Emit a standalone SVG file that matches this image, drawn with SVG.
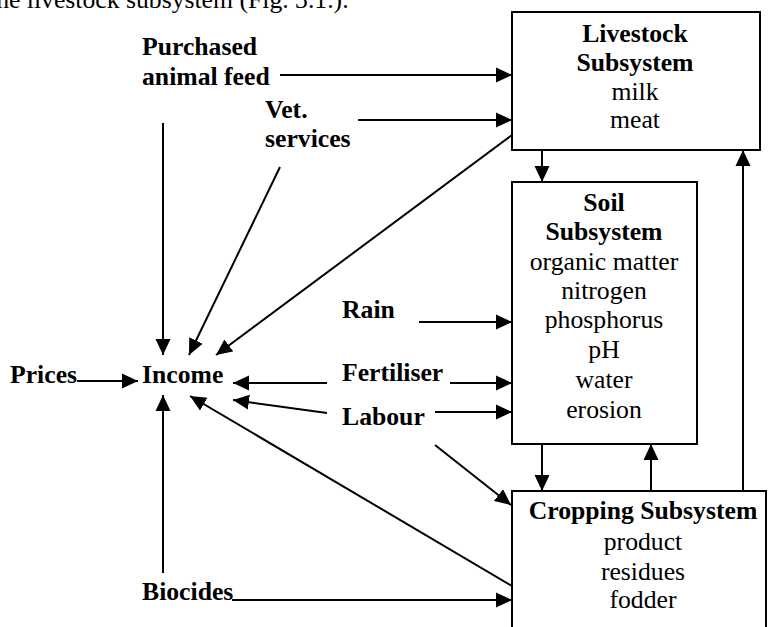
<svg xmlns="http://www.w3.org/2000/svg" width="769" height="627" viewBox="0 0 769 627">
<style>
text{font-family:"Liberation Serif","Times New Roman",serif;font-size:25.7px;fill:#000}
.b{font-weight:bold}
.c{text-anchor:middle}
.box{fill:#fff;stroke:#000;stroke-width:2}
.ln{fill:none;stroke:#000;stroke-width:2}
</style>
<defs>
<marker id="ah" markerUnits="userSpaceOnUse" markerWidth="18" markerHeight="16" refX="16" refY="7.5" orient="auto" viewBox="0 0 18 15">
<path d="M0,0 L16,7.5 L0,15 z" fill="#000"/>
</marker>
</defs>
<rect width="769" height="627" fill="#fff"/>
<text x="-11" y="8">the livestock subsystem (Fig. 3.1.).</text>

<g id="connectors">
<line class="ln" x1="280" y1="75" x2="512" y2="75" marker-end="url(#ah)"/>
<line class="ln" x1="358" y1="120" x2="512" y2="120" marker-end="url(#ah)"/>
<line class="ln" x1="542" y1="150" x2="542" y2="182" marker-end="url(#ah)"/>
<line class="ln" x1="743" y1="491" x2="743" y2="150" marker-end="url(#ah)"/>
<line class="ln" x1="419" y1="322" x2="512" y2="322" marker-end="url(#ah)"/>
<line class="ln" x1="450" y1="383" x2="512" y2="383" marker-end="url(#ah)"/>
<line class="ln" x1="435" y1="412" x2="512" y2="412" marker-end="url(#ah)"/>
<line class="ln" x1="542" y1="444" x2="542" y2="491" marker-end="url(#ah)"/>
<line class="ln" x1="651" y1="491" x2="651" y2="444" marker-end="url(#ah)"/>
<line class="ln" x1="435" y1="445" x2="511" y2="505" marker-end="url(#ah)"/>
<line class="ln" x1="512" y1="586" x2="190" y2="396" marker-end="url(#ah)"/>
<line class="ln" x1="232" y1="600" x2="512" y2="600" marker-end="url(#ah)"/>
<line class="ln" x1="163" y1="573" x2="163" y2="395" marker-end="url(#ah)"/>
<line class="ln" x1="163" y1="123" x2="163" y2="355" marker-end="url(#ah)"/>
<line class="ln" x1="280" y1="167" x2="189" y2="355" marker-end="url(#ah)"/>
<line class="ln" x1="512" y1="135" x2="216" y2="355" marker-end="url(#ah)"/>
<line class="ln" x1="77" y1="381" x2="138" y2="381" marker-end="url(#ah)"/>
<line class="ln" x1="327" y1="383" x2="233" y2="383" marker-end="url(#ah)"/>
<line class="ln" x1="327" y1="413" x2="233" y2="400" marker-end="url(#ah)"/>
</g>

<g id="livestock">
<rect class="box" x="512" y="12" width="248" height="138"/>
<text class="b c" x="635" y="42">Livestock</text>
<text class="b c" x="635" y="71">Subsystem</text>
<text class="c" x="635" y="100">milk</text>
<text class="c" x="635" y="128">meat</text>
</g>

<g id="soil">
<rect class="box" x="512" y="182" width="185" height="262"/>
<text class="b c" x="604" y="211">Soil</text>
<text class="b c" x="604" y="240">Subsystem</text>
<text class="c" x="604" y="270">organic matter</text>
<text class="c" x="604" y="299">nitrogen</text>
<text class="c" x="604" y="328">phosphorus</text>
<text class="c" x="604" y="358">pH</text>
<text class="c" x="604" y="388">water</text>
<text class="c" x="604" y="418">erosion</text>
</g>

<g id="cropping">
<rect class="box" x="512" y="491" width="254" height="150"/>
<text class="b c" x="643" y="519">Cropping Subsystem</text>
<text class="c" x="643" y="550">product</text>
<text class="c" x="643" y="580">residues</text>
<text class="c" x="643" y="608">fodder</text>
</g>

<g id="income"><text class="b" x="142" y="383">Income</text></g>
<g id="prices"><text class="b" x="10" y="383">Prices</text></g>
<g id="feed"><text class="b" x="142" y="55">Purchased</text><text class="b" x="142" y="85">animal feed</text></g>
<g id="vet"><text class="b" x="265" y="118">Vet.</text><text class="b" x="265" y="147">services</text></g>
<g id="rain"><text class="b" x="342" y="318">Rain</text></g>
<g id="fertiliser"><text class="b" x="342" y="381">Fertiliser</text></g>
<g id="labour"><text class="b" x="342" y="425">Labour</text></g>
<g id="biocides"><text class="b" x="142" y="600">Biocides</text></g>
</svg>
